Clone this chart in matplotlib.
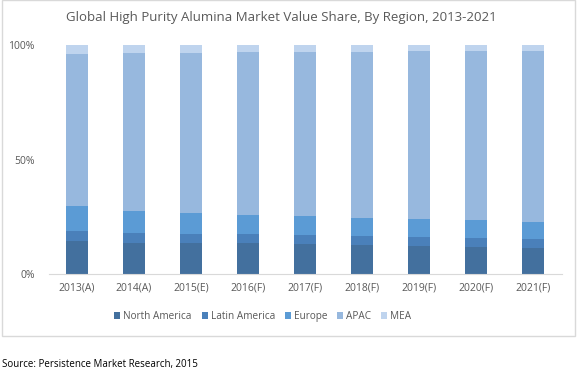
"""
Global high purity alumina market value share by region, 2013-2021.
"""

import matplotlib.pyplot as plt
from matplotlib.patches import Rectangle
import numpy as np

# Data
# ----------------------------------------------------------------------------

years = ['2013(A)', '2014(A)', '2015(E)', '2016(F)', '2017(F)',
         '2018(F)', '2019(F)', '2020(F)', '2021(F)']

north_america = [14.5, 13.7, 13.7, 13.7, 13.1, 12.7, 12.2, 11.8, 11.4]
latin_america = [4.2, 4.2, 3.9, 3.9, 4.1, 3.9, 3.9, 3.9, 3.9]
europe = [11.1, 9.6, 9.0, 8.2, 8.2, 7.9, 7.9, 7.9, 7.4]
apac = [66.2, 69.0, 69.9, 71.1, 71.5, 72.4, 73.4, 73.8, 74.7]
mea = [4.0, 3.5, 3.5, 3.1, 3.1, 3.1, 2.6, 2.6, 2.6]

regions = ['North America', 'Latin America', 'Europe', 'APAC', 'MEA']
colors = ['#43709e', '#4a80ba', '#5b9bd5', '#97b8de', '#bfd4ee']

# Plot
# ----------------------------------------------------------------------------

plt.rcParams['font.family'] = ['Open Sans', 'DejaVu Sans']
text_color = '#595959'

fig = plt.figure(figsize=(5.78, 3.75), dpi=100)
ax = fig.add_axes([48.5 / 578, 101 / 375, 513 / 578, 229 / 375])

x = np.arange(len(years))
series = [north_america, latin_america, europe, apac, mea]
bottom = np.zeros(len(years))
for name, vals, c in zip(regions, series, colors):
    vals = np.array(vals) / 100
    ax.bar(x, vals, 0.4, bottom=bottom, color=c, label=name)
    bottom += vals

ax.set_xlim(-0.5, len(years) - 0.5)
ax.set_ylim(0, 1)
ax.set_xticks(x)
ax.set_xticklabels(years, fontsize=7.5, color=text_color)
ax.set_yticks([0, 0.5, 1])
ax.set_yticklabels(['0%', '50%', '100%'], fontsize=7.5, color=text_color)
ax.tick_params(length=0, pad=6)
ax.tick_params(axis='y', pad=10)
for side in ['top', 'right', 'left']:
    ax.spines[side].set_visible(False)
ax.spines['bottom'].set_color('#d9d9d9')

ax.legend(loc='center', bbox_to_anchor=(0.418, -0.185), ncol=5, frameon=False,
          fontsize=7.2, handlelength=0.6, handleheight=0.6, handletextpad=0.3,
          columnspacing=1.0, labelcolor=text_color)

fig.text(0.5 - 8 / 578, 1 - 18 / 375,
         'Global High Purity Alumina Market Value Share, By Region, 2013-2021',
         ha='center', va='center', fontsize=9.5, color=text_color)

# Chart frame
fig.patches.append(Rectangle((2 / 578, 1 - 336 / 375), 573 / 578, 336 / 375,
                             transform=fig.transFigure, fill=False,
                             edgecolor='#d9d9d9', linewidth=1))

fig.text(2 / 578, 1 - 365 / 375, 'Source: Persistence Market Research, 2015',
         ha='left', va='center', fontsize=7, color='black')

fig.savefig('out.png', dpi=100)
